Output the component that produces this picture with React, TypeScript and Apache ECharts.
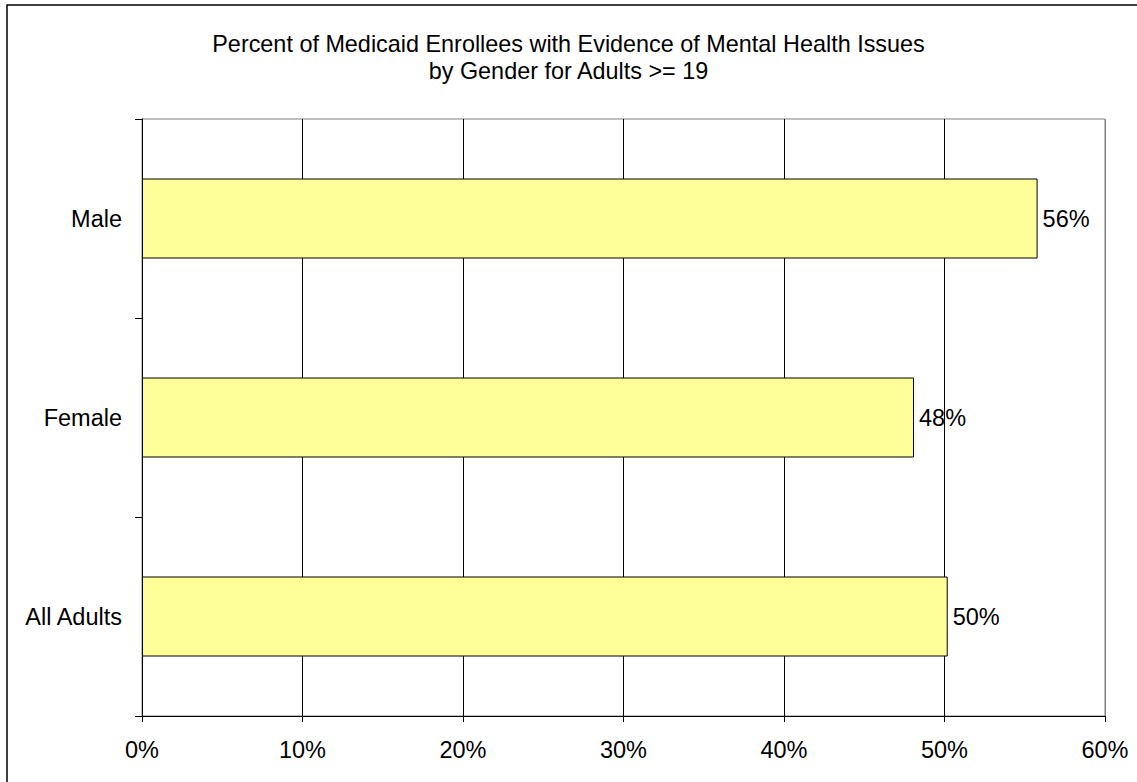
import React, { useEffect, useRef } from "react";
import * as echarts from "echarts";

const categories = ["Male", "Female", "All Adults"];
const percentValues = [55.8, 48.1, 50.2];
const xTicks = [0, 10, 20, 30, 40, 50, 60];
const titleLines = [
  "Percent of Medicaid Enrollees with Evidence of Mental Health Issues",
  "by Gender for Adults >= 19",
];

const FONT = "Liberation Sans, Arial, sans-serif";
const LABEL_SIZE = 23.5;

export default function App() {
  const ref = useRef<HTMLDivElement>(null);
  useEffect(() => {
    if (!ref.current) return;
    const chart = echarts.init(ref.current, null, { renderer: "svg" });
    const splitColors = xTicks.map((_, i) => (i === xTicks.length - 1 ? "#808080" : "#000000"));
    chart.setOption({
      animation: false,
      backgroundColor: "#ffffff",
      title: {
        text: titleLines.join("\n"),
        left: "center",
        top: 25,
        textStyle: {
          fontFamily: FONT,
          fontSize: 23.4,
          fontWeight: "normal",
          color: "#000",
          lineHeight: 27,
        },
      },
      graphic: [
        {
          type: "rect",
          shape: { x: 7, y: 5, width: 1300, height: 1000 },
          style: { fill: "none", stroke: "#000", lineWidth: 1.5 },
          silent: true,
        },
      ],
      grid: {
        left: 142,
        top: 119,
        right: 32,
        bottom: 66,
        show: true,
        borderColor: "#808080",
        borderWidth: 1,
        backgroundColor: "transparent",
      },
      xAxis: {
        type: "value",
        min: xTicks[0],
        max: xTicks[xTicks.length - 1],
        interval: 10,
        axisLine: { show: true, lineStyle: { color: "#000", width: 1 } },
        axisTick: { show: true, length: 6, lineStyle: { color: "#000" } },
        axisLabel: {
          margin: 22,
          formatter: (v: number) => `${v}%`,
          fontFamily: FONT,
          fontSize: LABEL_SIZE,
          color: "#000",
        },
        splitLine: { show: true, lineStyle: { color: splitColors, width: 1 } },
      },
      yAxis: {
        type: "category",
        data: categories,
        inverse: true,
        axisLine: { show: true, lineStyle: { color: "#000", width: 1 } },
        axisTick: { show: true, length: 7, lineStyle: { color: "#000" } },
        axisLabel: {
          margin: 20,
          fontFamily: FONT,
          fontSize: LABEL_SIZE,
          color: "#000",
        },
        splitLine: { show: false },
      },
      series: [
        {
          type: "bar",
          data: percentValues,
          barWidth: 80,
          itemStyle: { color: "#FFFF99", borderColor: "#000", borderWidth: 1 },
          label: {
            show: true,
            position: "right",
            distance: 5,
            formatter: (p: any) => `${Math.round(p.value)}%`,
            fontFamily: FONT,
            fontSize: LABEL_SIZE,
            color: "#000",
          },
        },
      ],
    });
    return () => chart.dispose();
  }, []);
  return (
    <div
      ref={ref}
      style={{ position: "absolute", left: 0, top: 0, width: 1137, height: 782 }}
    />
  );
}
